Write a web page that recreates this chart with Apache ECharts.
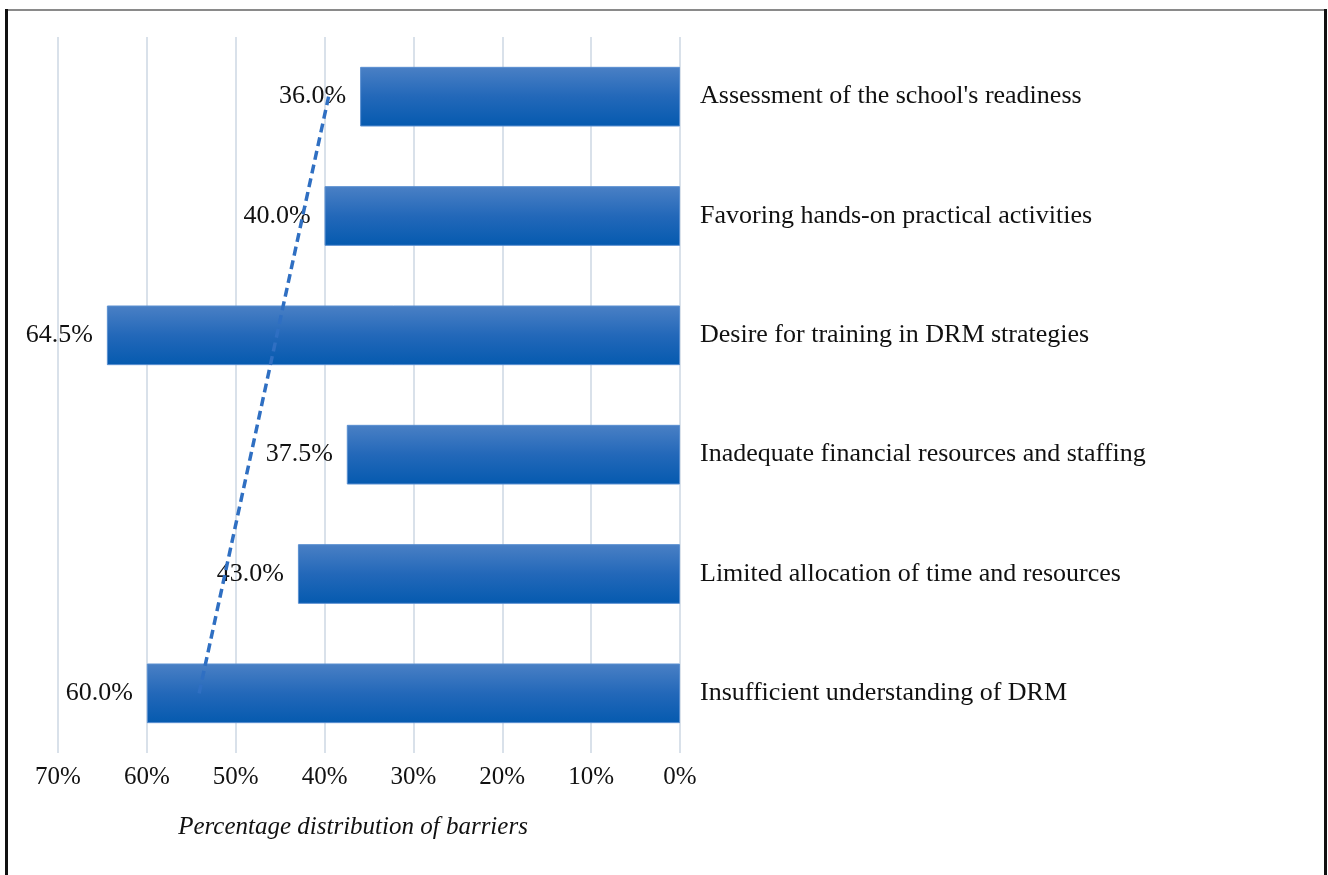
<!DOCTYPE html>
<html>
<head>
<meta charset="utf-8">
<script src="https://cdn.jsdelivr.net/npm/echarts@6/dist/echarts.min.js"></script>
<style>
  html, body { margin: 0; padding: 0; background: #ffffff; }
  #chart { width: 1328px; height: 875px; }
</style>
</head>
<body>
<div id="chart"></div>
<script>
// Barriers, listed top to bottom
const categories = [
  "Assessment of the school's readiness",
  "Favoring hands-on practical activities",
  "Desire for training in DRM strategies",
  "Inadequate financial resources and staffing",
  "Limited allocation of time and resources",
  "Insufficient understanding of DRM"
];
// Share of respondents (%)
const shares = [36.0, 40.0, 64.5, 37.5, 43.0, 60.0];
// Axis ticks (%)
const xTicks = [0, 10, 20, 30, 40, 50, 60, 70];

// Linear trendline (least squares over the categories, bottom = 1)
function linearTrend(vals) {
  const ys = vals.slice().reverse();
  const n = ys.length;
  const xs = ys.map((_, i) => i + 1);
  const mx = xs.reduce((a, b) => a + b, 0) / n;
  const my = ys.reduce((a, b) => a + b, 0) / n;
  let sxy = 0, sxx = 0;
  for (let i = 0; i < n; i++) {
    sxy += (xs[i] - mx) * (ys[i] - my);
    sxx += (xs[i] - mx) * (xs[i] - mx);
  }
  const slope = sxy / sxx;
  const f = x => my + slope * (x - mx);
  return [f(1), f(n)];
}
const trend = linearTrend(shares);
const trendData = [
  [trend[0], categories[categories.length - 1]],
  [trend[1], categories[0]]
];

const serif = "'Liberation Serif', 'DejaVu Serif', serif";
const chart = echarts.init(document.getElementById('chart'));
chart.setOption({
  animation: false,
  backgroundColor: '#ffffff',
  grid: { left: 58, right: 648, top: 37, bottom: 122, containLabel: false },
  xAxis: {
    type: 'value',
    inverse: true,
    min: xTicks[0],
    max: xTicks[xTicks.length - 1],
    interval: 10,
    axisLine: { show: false },
    axisTick: { show: false },
    splitLine: { show: true, lineStyle: { color: '#d9e1ea', width: 2 } },
    axisLabel: {
      formatter: '{value}%',
      margin: 12,
      color: '#111',
      fontFamily: serif,
      fontSize: 25
    },
    name: 'Percentage distribution of barriers',
    nameLocation: 'middle',
    nameGap: 62,
    nameTextStyle: {
      fontFamily: serif,
      fontStyle: 'italic',
      fontSize: 25,
      color: '#111',
      padding: [0, 32, 0, 0]
    }
  },
  yAxis: {
    type: 'category',
    data: categories,
    inverse: true,
    position: 'right',
    axisLine: { show: false },
    axisTick: { show: false },
    splitLine: { show: false },
    axisLabel: {
      margin: 20,
      align: 'left',
      color: '#111',
      fontFamily: serif,
      fontSize: 26,
      padding: [6, 0, 0, 0]
    }
  },
  series: [
    {
      type: 'bar',
      data: shares,
      barWidth: '50%',
      itemStyle: {
        borderColor: '#5a8fd0',
        borderWidth: 1,
        color: new echarts.graphic.LinearGradient(0, 0, 0, 1, [
          { offset: 0, color: '#4a80c5' },
          { offset: 0.5, color: '#2368b9' },
          { offset: 1, color: '#055aaf' }
        ])
      },
      label: {
        show: true,
        position: 'left',
        distance: 14,
        formatter: p => p.value.toFixed(1) + '%',
        color: '#111',
        fontFamily: serif,
        fontSize: 26,
        padding: [8, 0, 0, 0]
      },
      z: 2
    },
    {
      type: 'line',
      data: trendData,
      symbol: 'none',
      silent: true,
      lineStyle: { color: '#2f6fc2', width: 3.5, type: [9, 5] },
      z: 5
    }
  ],
  graphic: [
    { type: 'rect', shape: { x: 5, y: 9, width: 1322, height: 2 }, style: { fill: '#8a8a8a' } },
    { type: 'rect', shape: { x: 5, y: 9, width: 3, height: 870 }, style: { fill: '#111' } },
    { type: 'rect', shape: { x: 1324, y: 9, width: 3, height: 870 }, style: { fill: '#111' } }
  ]
});
</script>
</body>
</html>
